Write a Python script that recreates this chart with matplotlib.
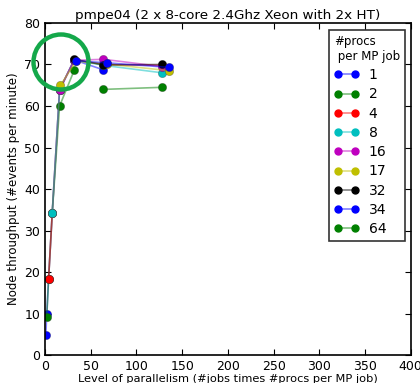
import matplotlib
matplotlib.use("Agg")
import matplotlib.pyplot as plt
from matplotlib.patches import Ellipse
from matplotlib.lines import Line2D

labels = ["1", "2", "4", "8", "16", "17", "32", "34", "64"]
colors = ["b", "g", "r", "c", "m", "y", "k", "b", "g"]
xs = [
    [1, 2, 4, 8, 16, 32, 64],
    [2, 4, 8, 16, 32],
    [4, 8, 16, 32, 64, 128],
    [8, 16, 32, 64, 128],
    [16, 32, 64, 128],
    [17, 34, 68, 136],
    [32, 64, 128],
    [34, 68, 136],
    [64, 128],
]
ys = [
    [4.9, 10.0, 18.4, 34.3, 63.9, 71.1, 68.7],
    [9.2, 18.4, 34.3, 60.0, 68.6],
    [18.4, 34.3, 63.9, 71.1, 70.0, 69.8],
    [34.3, 63.9, 71.1, 69.8, 68.0],
    [63.9, 71.0, 71.25, 69.5],
    [65.0, 70.8, 70.1, 68.5],
    [71.25, 69.9, 70.0],
    [70.9, 70.4, 69.3],
    [64.0, 64.5],
]

plt.rcParams['font.family'] = ['DejaVu Sans']
fig = plt.figure(figsize=(4.2, 3.83), dpi=100)
ax = fig.add_axes([0.107, 0.073, 0.871, 0.867])

for x, y, c in zip(xs, ys, colors):
    ax.plot(x, y, '-', color=c, alpha=0.5, lw=1.2)
    ax.plot(x, y, 'o', color=c, ms=6, mec=(0.2, 0.2, 0.2, 0.4), mew=0.5)

handles = []
for c in colors:
    h = Line2D([], [], color=matplotlib.colors.to_rgba(c, 0.5), lw=1.2, marker='o', ms=5,
               markerfacecolor=c, markeredgecolor=c)
    handles.append(h)

leg = ax.legend(handles, labels, title="#procs\n per MP job", loc='upper right',
                numpoints=2, fontsize=10, title_fontsize=8.5, labelspacing=0.38,
                handlelength=1.8, handletextpad=0.7, fancybox=False, edgecolor='black',
                bbox_to_anchor=(0.984, 0.979), borderaxespad=0.0, borderpad=0.35)
leg._legend_box.align = "left"
leg.get_frame().set_linewidth(1.2)

ax.set_xlim(0, 400)
ax.set_ylim(0, 80)
ax.set_xticks(range(0, 401, 50))
ax.set_yticks(range(0, 81, 10))
ax.tick_params(direction='in', top=True, right=True, labelsize=9, length=4)
ax.set_title("pmpe04 (2 x 8-core 2.4Ghz Xeon with 2x HT)", fontsize=9.7, pad=3)
ax.set_xlabel("Level of parallelism (#jobs times #procs per MP job)", fontsize=8.2, labelpad=1)
ax.set_ylabel("Node throughput (#events per minute)", fontsize=8.5, labelpad=3)
for s in ax.spines.values():
    s.set_linewidth(1.2)

circ = Ellipse((61 / 420, 1 - 62 / 383), 55 / 420, 55 / 383, transform=fig.transFigure,
               fill=False, edgecolor='#14a84a', lw=3.2, zorder=10)
fig.patches.append(circ)

fig.savefig("out.png", dpi=100)
